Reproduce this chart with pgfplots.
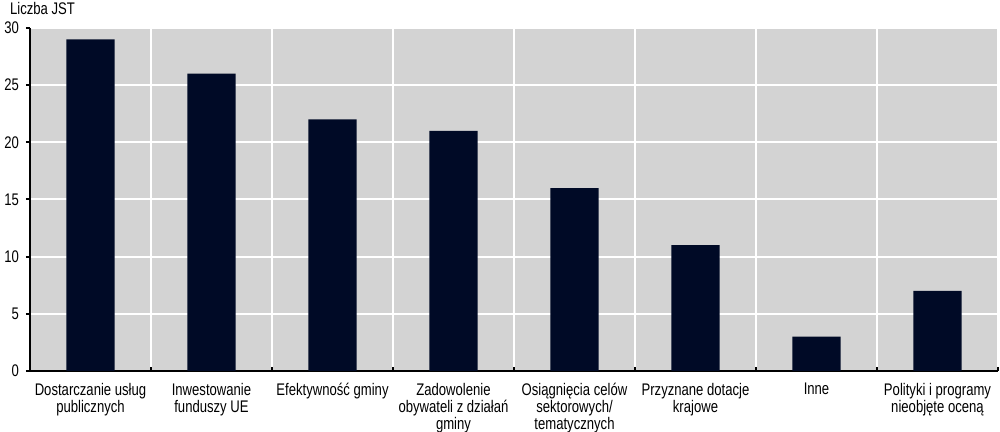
\documentclass[border=0pt]{standalone}
\usepackage{fontspec}
\setmainfont{Liberation Sans}[FakeStretch=0.78]
\usepackage{pgfplots}
\pgfplotsset{compat=1.18}

\definecolor{bgGray}{HTML}{D3D3D3}
\definecolor{barNavy}{HTML}{000A26}

\begin{document}
\begin{tikzpicture}
\begin{axis}[
    name=main,
    scale only axis,
    width=484pt,
    height=171.5pt,
    xmin=-0.5, xmax=7.5,
    ymin=0, ymax=30,
    axis x line=bottom,
    axis y line=left,
    axis line style={-, black, line width=1pt},
    axis background/.style={fill=bgGray},
    font=\fontsize{8.4}{8.5}\selectfont,
    /pgf/number format/assume math mode=true,
    ytick={0,5,...,30},
    xtick={0,...,7},
    xticklabels={
        Dostarczanie usług\\publicznych,
        Inwestowanie\\funduszy UE,
        Efektywność gminy,
        Zadowolenie\\obywateli z działań\\gminy,
        Osiągnięcia celów\\sektorowych/\\tematycznych,
        Przyznane dotacje\\krajowe,
        Inne,
        Polityki i programy\\nieobjęte oceną},
    xticklabel style={align=center, yshift=-2.5pt},
    minor xtick={0.5,1.5,...,7.5},
    major x tick style={draw=none},
    minor x tick style={black, line width=1pt},
    minor tick length=2pt,
    major tick length=2pt,
    xtick align=inside,
    ytick align=outside,
    y tick style={black, line width=1pt},
    ymajorgrids, xminorgrids,
    grid style={white, line width=1pt},
    every axis y label/.style={at={(rel axis cs:0,1)}, anchor=base west, xshift=-13.5pt, yshift=6.5pt},
    ylabel={Liczba JST},
]
\addplot[ybar, bar width=0.4, fill=barNavy, draw=none] coordinates {
    (0, 29)
    (1, 26)
    (2, 22)
    (3, 21)
    (4, 16)
    (5, 11)
    (6, 3)
    (7, 7)
};
\end{axis}
% page box as in the reference: descenders of the last line are cut off
\pgfresetboundingbox
\path ([xshift=-15pt, yshift=14pt]main.north west) rectangle ([xshift=1pt, yshift=-30.5pt]main.south east);
\end{tikzpicture}
\end{document}
